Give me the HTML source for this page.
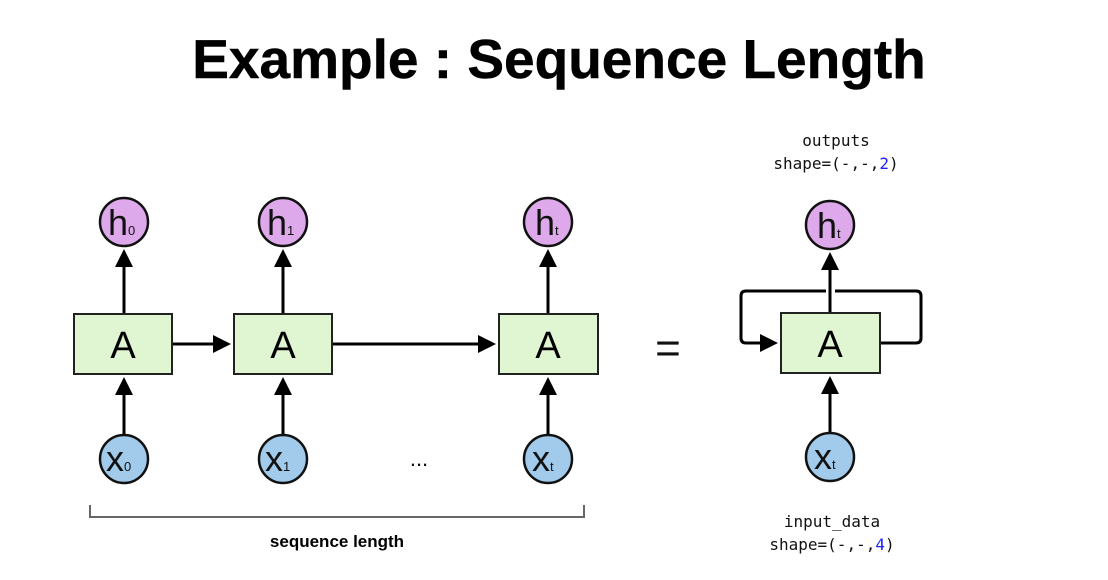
<!DOCTYPE html>
<html><head><meta charset="utf-8"><style>
html,body{margin:0;padding:0;background:#fff;}
svg{display:block}
</style></head><body>
<svg width="1108" height="580" viewBox="0 0 1108 580" xmlns="http://www.w3.org/2000/svg">
<defs>
<marker id="ar" markerWidth="6" markerHeight="6" refX="5" refY="3" orient="auto" markerUnits="strokeWidth">
<path d="M0,0 L6,3 L0,6 z" fill="#000"/>
</marker>
</defs>
<text x="559" y="78" text-anchor="middle" font-family="Liberation Sans, sans-serif" font-weight="bold" font-size="55" stroke="#000" stroke-width="0.5">Example : Sequence Length</text>

<g stroke="#000" stroke-width="3" fill="none">
<line x1="124" y1="314" x2="124" y2="252" marker-end="url(#ar)"/>
<line x1="124" y1="434" x2="124" y2="380" marker-end="url(#ar)"/>
<line x1="283" y1="314" x2="283" y2="252" marker-end="url(#ar)"/>
<line x1="283" y1="434" x2="283" y2="380" marker-end="url(#ar)"/>
<line x1="548" y1="314" x2="548" y2="252" marker-end="url(#ar)"/>
<line x1="548" y1="434" x2="548" y2="380" marker-end="url(#ar)"/>
<line x1="830" y1="313" x2="830" y2="255" marker-end="url(#ar)"/>
<line x1="830" y1="433" x2="830" y2="379" marker-end="url(#ar)"/>
<line x1="173" y1="344" x2="228" y2="344" marker-end="url(#ar)"/>
<line x1="333" y1="344" x2="493" y2="344" marker-end="url(#ar)"/>
<path d="M881,343 L916,343 Q921,343 921,338 L921,296 Q921,291 916,291 L835,291"/>
<path d="M826,291 L746,291 Q741,291 741,296 L741,338 Q741,343 746,343 L775,343" marker-end="url(#ar)"/>
</g>

<g stroke="#222" stroke-width="2" fill="#e0f5d2">
<rect x="74" y="314" width="98" height="60"/>
<rect x="234" y="314" width="98" height="60"/>
<rect x="499" y="314" width="99" height="60"/>
<rect x="781" y="313" width="99" height="60"/>
</g>
<g font-family="Liberation Sans, sans-serif" font-size="38" text-anchor="middle">
<text x="123" y="358">A</text><text x="283" y="358">A</text><text x="548" y="358">A</text><text x="830" y="357">A</text>
</g>

<g stroke="#111" stroke-width="2.5" fill="#dda9eb">
<circle cx="124" cy="222" r="24"/><circle cx="283" cy="222" r="24"/><circle cx="548" cy="222" r="24"/><circle cx="830" cy="225" r="24"/>
</g>
<g stroke="#111" stroke-width="2.5" fill="#a2cbeb">
<circle cx="124" cy="459" r="24"/><circle cx="283" cy="459" r="24"/><circle cx="548" cy="459" r="24"/><circle cx="830" cy="457" r="24"/>
</g>
<g font-family="Liberation Sans, sans-serif" fill="#111">
<text x="108" y="235" font-size="36">h<tspan font-size="13">0</tspan></text>
<text x="267" y="235" font-size="36">h<tspan font-size="13">1</tspan></text>
<text x="535" y="235" font-size="36">h<tspan font-size="13">t</tspan></text>
<text x="817" y="238" font-size="36">h<tspan font-size="13">t</tspan></text>
<text x="106" y="471" font-size="36">x<tspan font-size="13">0</tspan></text>
<text x="265" y="471" font-size="36">x<tspan font-size="13">1</tspan></text>
<text x="532" y="471" font-size="36">x<tspan font-size="13">t</tspan></text>
<text x="814" y="469" font-size="36">x<tspan font-size="13">t</tspan></text>
<text x="419" y="466" font-size="22" text-anchor="middle">...</text>
<text x="668" y="363" font-size="44" text-anchor="middle">=</text>
</g>

<path d="M90,505 L90,517 L584,517 L584,505" stroke="#666" stroke-width="2" fill="none"/>
<text x="337" y="547" text-anchor="middle" font-family="Liberation Sans, sans-serif" font-weight="bold" font-size="17">sequence length</text>

<g font-family="DejaVu Sans Mono, monospace" font-size="16" text-anchor="middle" fill="#111">
<text x="836" y="146">outputs</text>
<text x="836" y="169">shape=(-,-,<tspan fill="#2020ff">2</tspan>)</text>
<text x="832" y="527">input_data</text>
<text x="832" y="550">shape=(-,-,<tspan fill="#2020ff">4</tspan>)</text>
</g>
</svg>
</body></html>
